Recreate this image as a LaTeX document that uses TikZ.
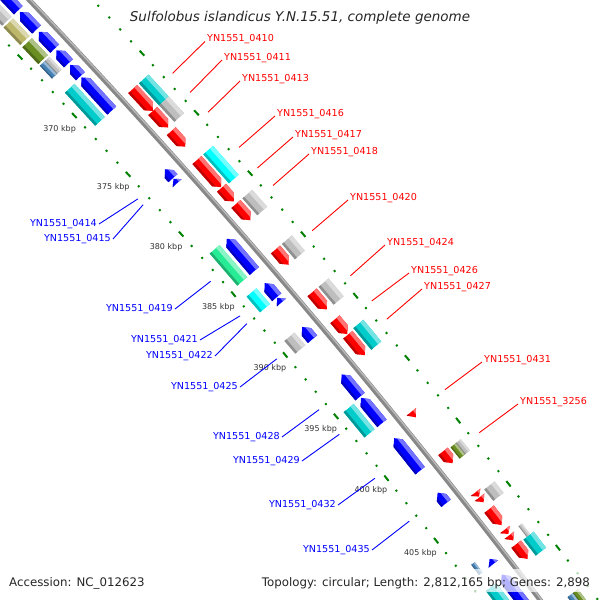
\documentclass[tikz,border=0pt]{standalone}
\usepackage{fontspec}
\setmainfont{DejaVu Sans}
\usetikzlibrary{calc}

\definecolor{cgred}{RGB}{255,0,0}
\definecolor{cgblue}{RGB}{0,0,255}
\definecolor{cgturq}{RGB}{0,204,204}
\definecolor{cgcyan}{RGB}{0,255,255}
\definecolor{cgspring}{RGB}{40,235,150}
\definecolor{cggray}{RGB}{190,190,190}
\definecolor{cgkhaki}{RGB}{189,183,107}
\definecolor{cgolive}{RGB}{107,142,35}
\definecolor{cgsteel}{RGB}{70,130,180}
\definecolor{tickgreen}{RGB}{0,130,0}
\definecolor{bbgray}{RGB}{136,136,136}
\definecolor{kbpgray}{RGB}{51,51,51}

\tikzset{
  backbone/.style={draw=bbgray, line width=5pt},
  backlight/.style={draw=gray!55, line width=1.4pt},
  tickmark/.style={draw=tickgreen, line width=2pt},
  kbplab/.style={text=kbpgray, font=\fontsize{8}{9}\selectfont, inner sep=0pt},
  fwdlab/.style={text=cgred, font=\fontsize{9.6}{11}\selectfont, inner sep=2pt, anchor=base west},
  revlab/.style={text=cgblue, font=\fontsize{9.6}{11}\selectfont, inner sep=2pt, anchor=east},
  fwdlead/.style={draw=cgred, line width=0.9pt},
  revlead/.style={draw=cgblue, line width=0.9pt},
  titlelab/.style={font=\fontsize{13.5}{15}\selectfont\itshape, text=black!85},
  footlab/.style={font=\fontsize{11.8}{13}\selectfont, text=black!85, inner sep=0pt}
}

% kbp -> angle on the map, track radius in px
\newcommand{\featlims}[4]{%
  \pgfmathsetmacro\angS{90-0.128015*(#1)}%
  \pgfmathsetmacro\angE{90-0.128015*(#2)}%
  \pgfmathsetmacro\angHf{\angE+372.4/(#3)}%
  \pgfmathsetmacro\angHr{\angS-372.4/(#3)}%
  \pgfmathsetmacro\angSx{\angS+0.1}%
  \pgfmathsetmacro\angEx{\angE-0.1}%
  \pgfmathsetmacro\radM{#3}%
  \pgfmathsetmacro\radI{(#3)-(#4)}%
  \pgfmathsetmacro\radO{(#3)+(#4)}%
  \pgfmathsetmacro\radL{(#3)+0.35*(#4)}%
  \pgfmathsetmacro\radD{(#3)-0.6*(#4)}%
  \pgfmathsetmacro\radX{(#3)+3*(#4)}%
  \pgfmathsetmacro\radY{(#3)-3*(#4)}}

% fill with light outer edge and dark inner edge
\newcommand{\paintfeat}[2]{%
  \fill[#1] #2;
  \begin{scope}
    \clip #2;
    \fill[#1!55!white] (\angSx:\radL pt) -- (\angSx:\radX pt) -- (\angEx:\radX pt) -- (\angEx:\radL pt) -- cycle;
    \fill[#1!75!black] (\angSx:\radD pt) -- (\angSx:\radY pt) -- (\angEx:\radY pt) -- (\angEx:\radD pt) -- cycle;
  \end{scope}}

\newcommand{\cgbox}[5]{\featlims{#1}{#2}{#3}{#4}%
  \paintfeat{#5}{(\angS:\radI pt) -- (\angS:\radO pt) -- (\angE:\radO pt) -- (\angE:\radI pt) -- cycle}}
\newcommand{\cgblock}[4]{\cgbox{#1}{#2}{#3}{6.5}{#4}}
\newcommand{\cgthin}[4]{\cgbox{#1}{#2}{#3}{2.2}{#4}}
\newcommand{\cgsplit}[5]{\cgbox{#1}{#2}{#3+3.25}{3.25}{#4}\cgbox{#1}{#2}{#3-3.25}{3.25}{#5}}
\newcommand{\fwdgene}[4]{\featlims{#1}{#2}{#3}{6}%
  \paintfeat{#4}{(\angS:\radI pt) -- (\angS:\radO pt) -- (\angHf:\radO pt) -- (\angE:\radM pt) -- (\angHf:\radI pt) -- cycle}}
\newcommand{\revgene}[4]{\featlims{#1}{#2}{#3}{6}%
  \paintfeat{#4}{(\angE:\radI pt) -- (\angE:\radO pt) -- (\angHr:\radO pt) -- (\angS:\radM pt) -- (\angHr:\radI pt) -- cycle}}
\newcommand{\fwdtri}[4]{\featlims{#1}{#2}{#3}{6}%
  \paintfeat{#4}{(\angS:\radI pt) -- (\angS:\radO pt) -- (\angE:\radM pt) -- cycle}}
\newcommand{\revtri}[4]{\featlims{#1}{#2}{#3}{6}%
  \paintfeat{#4}{(\angE:\radI pt) -- (\angE:\radO pt) -- (\angS:\radM pt) -- cycle}}

\begin{document}
\begin{tikzpicture}[x=1pt,y=1pt]
  \useasboundingbox (0,0) rectangle (600,-600);
  \fill[white] (0,0) rectangle (600,-600);

  \begin{scope}
    \clip (0,0) rectangle (600,-600);
    \begin{scope}[shift={(-5178.4,-4951.1)}]
      % Backbone
      \pgfmathsetmacro\bbS{90-0.128015*355}
      \pgfmathsetmacro\bbE{90-0.128015*420}
      \draw[backbone] (\bbS:7186pt) arc[start angle=\bbS, end angle=\bbE, radius=7186pt];
      \draw[backlight] (\bbS:7187.2pt) arc[start angle=\bbS, end angle=\bbE, radius=7187.2pt];

      % Tick marks, 1 kbp apart
      \foreach \k in {355,...,418}{
        \pgfmathsetmacro\dl{mod(\k,5)==0 ? 0.027 : 0.008}
        \pgfmathsetmacro\tkA{90-0.128015*\k+\dl}
        \pgfmathsetmacro\tkB{90-0.128015*\k-\dl}
        \draw[tickmark] (\tkA:7140pt) -- (\tkB:7140pt);
        \draw[tickmark] (\tkA:7232pt) -- (\tkB:7232pt);
      }
      \foreach \k in {370,375,...,405}
        \node[kbplab] (k\k) at ({90-0.128015*\k}:7120pt) {\k\ kbp};

      % Reverse strand genes
      \revgene{359.8}{362.8}{7171}{cgblue}
      \revgene{362.95}{364.45}{7171}{cgblue}
      \revgene{364.65}{366.1}{7171}{cgblue}
      \revgene{366.25}{367.35}{7171}{cgblue}
      \revgene{367.5}{368.45}{7171}{cgblue}
      \revgene{368.55}{371.35}{7171}{cgblue}
      \revgene{376.3}{377.05}{7171}{cgblue}
      \revtri{377.1}{377.45}{7171}{cgblue}
      \revgene{382.1}{384.75}{7171}{cgblue}
      \revgene{385.75}{386.9}{7171}{cgblue}
      \revtri{386.95}{387.35}{7171}{cgblue}
      \revgene{389.35}{390.35}{7171}{cgblue}
      \revgene{393.2}{395.0}{7171}{cgblue}
      \revgene{395.1}{397.15}{7171}{cgblue}
      \revgene{398.35}{400.95}{7171}{cgblue}
      \revgene{402.7}{403.55}{7171}{cgblue}
      \revtri{407.95}{408.35}{7171}{cgblue}
      \revgene{409.2}{413.5}{7171}{cgblue}

      % Reverse strand COG classes
      \cgblock{359.8}{362.8}{7155}{cggray}
      \cgblock{362.95}{364.45}{7155}{cgkhaki}
      \cgblock{364.65}{366.1}{7155}{cgolive}
      \cgsplit{366.25}{367.35}{7155}{cggray}{cgsteel}
      \cgblock{368.55}{371.35}{7155}{cgturq}
      \cgblock{382.1}{384.75}{7155}{cgspring}
      \cgblock{385.65}{386.95}{7155}{cgcyan}
      \cgblock{389.3}{390.35}{7155}{cggray}
      \cgblock{395.1}{397.15}{7155}{cgturq}
      \cgthin{407.55}{408.35}{7155}{cgsteel}
      \cgblock{409.4}{413.5}{7155}{cgturq}

      % Forward strand genes
      \fwdgene{371.25}{373.1}{7201}{cgred}
      \fwdgene{373.1}{374.5}{7201}{cgred}
      \fwdgene{374.8}{376.1}{7201}{cgred}
      \fwdgene{377.2}{379.45}{7201}{cgred}
      \fwdgene{379.5}{380.65}{7201}{cgred}
      \fwdgene{380.85}{382.2}{7201}{cgred}
      \fwdgene{384.6}{385.85}{7201}{cgred}
      \fwdgene{388.1}{389.5}{7201}{cgred}
      \fwdgene{390.3}{391.5}{7201}{cgred}
      \fwdgene{391.55}{393.2}{7201}{cgred}
      \fwdtri{397.75}{398.2}{7201}{cgred}
      \fwdgene{400.9}{401.85}{7201}{cgred}
      \fwdtri{404.15}{404.5}{7201}{cgred}
      \fwdtri{404.55}{404.95}{7201}{cgred}
      \fwdgene{405.5}{406.75}{7201}{cgred}
      \fwdtri{407.1}{407.45}{7201}{cgred}
      \fwdtri{407.55}{407.95}{7201}{cgred}
      \fwdgene{408.25}{409.4}{7201}{cgred}

      % Forward strand COG classes
      \cgblock{371.25}{373.1}{7216}{cgturq}
      \cgblock{373.1}{374.5}{7216}{cggray}
      \cgblock{377.2}{379.6}{7216}{cgcyan}
      \cgblock{380.85}{382.25}{7216}{cggray}
      \cgblock{384.6}{385.85}{7216}{cggray}
      \cgblock{388.1}{389.55}{7216}{cggray}
      \cgblock{391.45}{393.2}{7216}{cgturq}
      \cgsplit{401.0}{401.9}{7216}{cggray}{cgolive}
      \cgblock{404.35}{405.25}{7216}{cggray}
      \cgthin{407.45}{408.3}{7216}{cggray}
      \cgblock{408.3}{409.55}{7216}{cgturq}
      \cgsplit{412.8}{414.5}{7216}{cgolive}{cgsteel}

      % label anchors on the map
      \foreach \g/\k in {0410/372.2, 0411/373.8, 0413/375.45, 0416/378.35, 0417/380.05, 0418/381.5,
                         0420/385.2, 0424/388.85, 0426/390.9, 0427/392.35, 0431/398.0, 3256/401.4}
        \coordinate (p\g) at ({90-0.128015*\k}:7241pt);
      \foreach \g/\k in {0414/376.55, 0415/377.05, 0419/383.45, 0421/386.3, 0422/386.95,
                         0425/389.85, 0428/394.0, 0429/396.0, 0432/399.55, 0435/403.0}
        \coordinate (p\g) at ({90-0.128015*\k}:7131pt);
    \end{scope}

    % legend band
    \fill[white, opacity=0.7] (0,-569) rectangle (600,-592);
  \end{scope}

  % Gene labels
  \foreach \g/\x/\y in {0410/205/41.5, 0411/222/60, 0413/240/81, 0416/275/116, 0417/293/137, 0418/309/154,
                        0420/348/200, 0424/385/245, 0426/409/273, 0427/422/289, 0431/482/362, 3256/518/404}{
    \node[fwdlab] (l\g) at (\x,-\y) {YN1551\_\g};
    \draw[fwdlead] (p\g) -- (l\g.base west);
  }
  \foreach \g/\x/\y in {0414/99/224, 0415/113/239, 0419/175/309, 0421/200/340, 0422/215/356,
                        0425/240/387, 0428/282/437, 0429/302/461, 0432/338/505, 0435/372/550}{
    \node[revlab] (l\g) at (\x,-\y) {YN1551\_\g};
    \draw[revlead] (p\g) -- (l\g.east);
  }

  % Title and legend
  \node[titlelab] (title) at (300,-18) {Sulfolobus islandicus Y.N.15.51, complete genome};
  \node[footlab, anchor=base west] (acc) at (9,-586.5) {Accession: NC\_012623};
  \node[footlab, anchor=base east] (topo) at (590,-586.5) {Topology: circular; Length: 2,812,165 bp; Genes: 2,898};
\end{tikzpicture}
\end{document}
